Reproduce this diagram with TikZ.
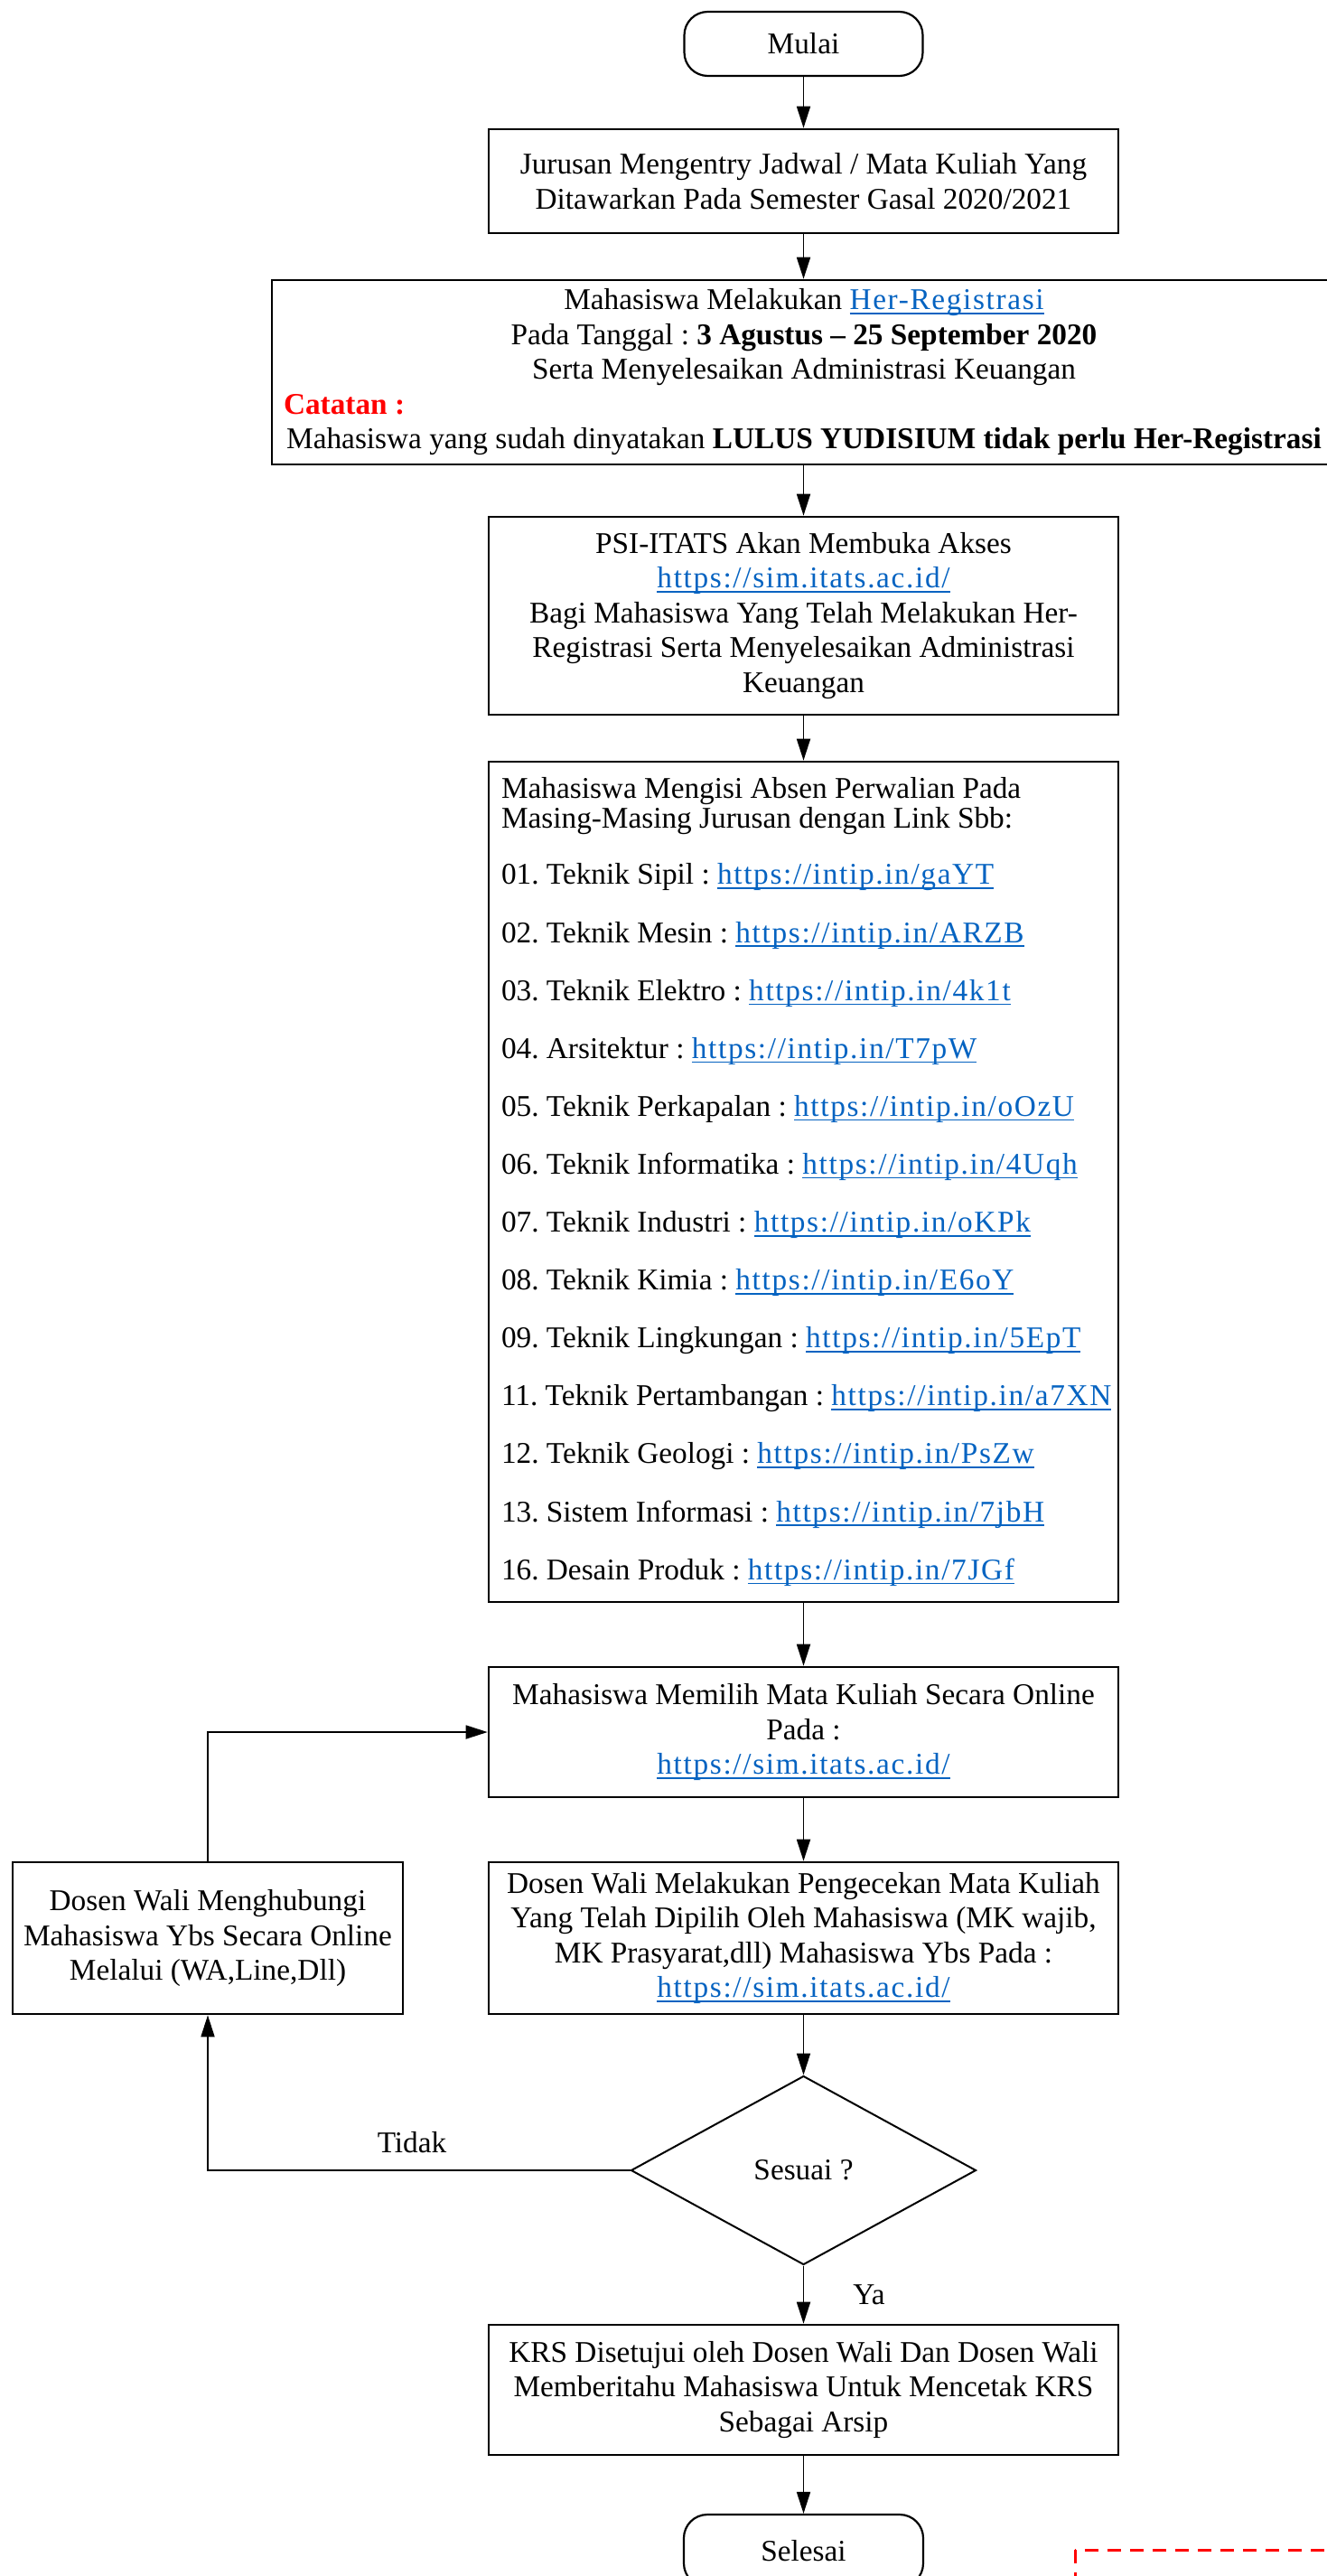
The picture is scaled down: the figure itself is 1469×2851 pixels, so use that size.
\documentclass[tikz,border=0pt]{standalone}
\usepackage{fontspec}
\setmainfont{Liberation Serif}
\usetikzlibrary{arrows.meta,shapes.geometric}
\definecolor{linkblue}{HTML}{0563C1}
\definecolor{notered}{HTML}{FF0000}
\newcommand\lnk[1]{{\color{linkblue}\setbox0\hbox{\addfontfeatures{LetterSpace=5}#1}\rlap{\rule[-5pt]{\wd0}{1.6pt}}\box0}}
\newcommand\li[1]{\mbox{#1}}
\newcommand\fsnorm{\fontsize{33.3}{38.5}\selectfont}
\newcommand\fslist{\fontsize{33.3}{33}\selectfont}
\frenchspacing
\begin{document}
\begin{tikzpicture}[x=1pt,y=-1pt,
  box/.style={draw, line width=2.6pt, rectangle, inner sep=0pt, align=center, font=\fsnorm},
  term/.style={draw, line width=2.2pt, rectangle, rounded corners=26pt, inner sep=0pt, font=\fsnorm},
  dec/.style={draw, line width=2pt, diamond, inner sep=0pt, font=\fsnorm},
  lbl/.style={inner sep=0pt, font=\fsnorm},
  conn/.style={line width=1.8pt, -{Triangle[length=24pt,width=15pt]}}
]
\useasboundingbox (0,0) rectangle (1469,2851);
\clip (0,0) rectangle (1469,2851);

\node[term, minimum width=264pt, minimum height=71pt] (mulai) at (889.5,48.5) {Mulai};

\node[box, minimum width=697pt, minimum height=115pt] (b2) at (889.5,200.5)
  {Jurusan Mengentry Jadwal / Mata Kuliah Yang\\ Ditawarkan Pada Semester Gasal 2020/2021};

\node[box, minimum width=1178pt, minimum height=204pt] (b3) at (890,412)
  {Mahasiswa Melakukan \lnk{Her-Registrasi}\\
   Pada Tanggal : \textbf{3 Agustus – 25 September 2020}\\
   Serta Menyelesaikan Administrasi Keuangan\\
   \makebox[1152pt][l]{\color{notered}\textbf{Catatan :}}\\
   Mahasiswa yang sudah dinyatakan \textbf{LULUS YUDISIUM tidak perlu Her-Registrasi}};

\node[box, minimum width=697pt, minimum height=219pt] (b4) at (889.5,681.5)
  {PSI-ITATS Akan Membuka Akses\\
   \lnk{https://sim.itats.ac.id/}\\
   Bagi Mahasiswa Yang Telah Melakukan Her-\\
   Registrasi Serta Menyelesaikan Administrasi\\
   Keuangan};

\node[box, minimum width=697pt, minimum height=930pt, text width=669pt, align=flush left, font=\fslist] (b5) at (889.5,1308)
  {\li{Mahasiswa Mengisi Absen Perwalian Pada}\\
   \li{Masing-Masing Jurusan dengan Link Sbb:}\\[29pt]
   \li{01. Teknik Sipil : \lnk{https://intip.in/gaYT}}\\[31.1pt]
   \li{02. Teknik Mesin : \lnk{https://intip.in/ARZB}}\\[31.1pt]
   \li{03. Teknik Elektro : \lnk{https://intip.in/4k1t}}\\[31.1pt]
   \li{04. Arsitektur : \lnk{https://intip.in/T7pW}}\\[31.1pt]
   \li{05. Teknik Perkapalan : \lnk{https://intip.in/oOzU}}\\[31.1pt]
   \li{06. Teknik Informatika : \lnk{https://intip.in/4Uqh}}\\[31.1pt]
   \li{07. Teknik Industri : \lnk{https://intip.in/oKPk}}\\[31.1pt]
   \li{08. Teknik Kimia : \lnk{https://intip.in/E6oY}}\\[31.1pt]
   \li{09. Teknik Lingkungan : \lnk{https://intip.in/5EpT}}\\[31.1pt]
   \li{11. Teknik Pertambangan : \lnk{https://intip.in/a7XN}}\\[31.1pt]
   \li{12. Teknik Geologi : \lnk{https://intip.in/PsZw}}\\[31.1pt]
   \li{13. Sistem Informasi : \lnk{https://intip.in/7jbH}}\\[31.1pt]
   \li{16. Desain Produk : \lnk{https://intip.in/7JGf}}};

\node[box, minimum width=697pt, minimum height=144pt] (b6) at (889.5,1917)
  {Mahasiswa Memilih Mata Kuliah Secara Online\\
   Pada :\\
   \lnk{https://sim.itats.ac.id/}};

\node[box, minimum width=697pt, minimum height=168pt] (b7) at (889.5,2145)
  {Dosen Wali Melakukan Pengecekan Mata Kuliah\\
   Yang Telah Dipilih Oleh Mahasiswa (MK wajib,\\
   MK Prasyarat,dll) Mahasiswa Ybs Pada :\\
   \lnk{https://sim.itats.ac.id/}};

\node[box, minimum width=432pt, minimum height=168pt] (lb) at (230,2145)
  {Dosen Wali Menghubungi\\
   Mahasiswa Ybs Secara Online\\
   Melalui (WA,Line,Dll)};

\node[dec, minimum width=382pt, minimum height=209pt] (d) at (889.5,2402) {Sesuai ?};

\node[box, minimum width=697pt, minimum height=144pt] (krs) at (889.5,2645)
  {KRS Disetujui oleh Dosen Wali Dan Dosen Wali\\
   Memberitahu Mahasiswa Untuk Mencetak KRS\\
   Sebagai Arsip};

\node[term, minimum width=265pt, minimum height=80pt] (sel) at (889.5,2823) {Selesai};

\node[lbl] (tidak) at (456,2371) {Tidak};
\node[lbl] (ya) at (962,2540) {Ya};

\draw[conn] (mulai) -- (b2);
\draw[conn] (b2) -- (b3.north -| b2.south);
\draw[conn] (b3.south -| b4.north) -- (b4);
\draw[conn] (b4) -- (b5);
\draw[conn] (b5) -- (b6);
\draw[conn] (b6) -- (b7);
\draw[conn] (b7) -- (d);
\draw[conn] (d) -- (krs);
\draw[conn] (krs) -- (sel);
\draw[conn] (d.west) -| (lb.south);
\draw[conn] (lb.north) |- (b6.west);

\draw[notered, line width=3pt, dash pattern=on 15pt off 10pt] (1190,2822) rectangle (1700,3100);
\end{tikzpicture}
\end{document}
